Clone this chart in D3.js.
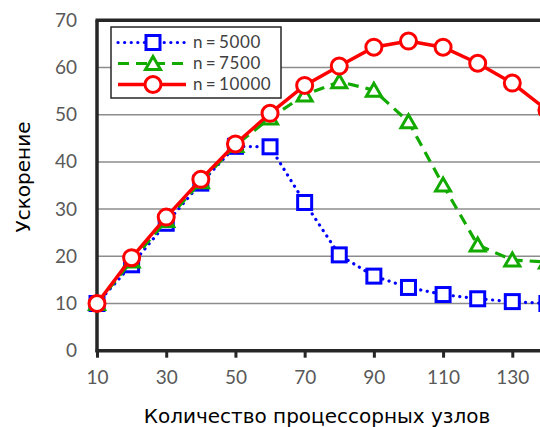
<!DOCTYPE html>
<html>
<head>
<meta charset="utf-8">
<script src="https://cdn.jsdelivr.net/npm/d3@7"></script>
<style>
  body { margin: 0; background: #fff; }
  svg { display: block; }
</style>
</head>
<body>
<div id="chart"></div>
<script>
// data
var nodes = [10, 20, 30, 40, 50, 60, 70, 80, 90, 100, 110, 120, 130, 140];
var s5000 = [10, 18.2, 27, 35.5, 43.3, 43.2, 31.4, 20.3, 15.8, 13.4, 11.9, 11, 10.4, 10];
var s7500 = [10, 19, 27.6, 35.8, 43.5, 49.3, 54.2, 57, 55.2, 48.5, 35.1, 22.4, 19.2, 18.8];
var s10000 = [10, 19.7, 28.3, 36.3, 43.8, 50.3, 56.2, 60.3, 64.3, 65.6, 64.3, 60.9, 56.7, 51];
var xTicks = [10, 30, 50, 70, 90, 110, 130];
var yTicks = [0, 10, 20, 30, 40, 50, 60, 70];
var seriesNames = ["n\u2009=\u20095000", "n\u2009=\u20097500", "n\u2009=\u200910000"];

var width = 540, height = 427;

var svg = d3.select("#chart")
    .append("svg")
    .attr("width", width)
    .attr("height", height);

var xScale = d3.scaleLinear().domain([10, 130]).range([97, 512.3]);
var yScale = d3.scaleLinear().domain([0, 70]).range([350.7, 20.3]);

var tickFont = "Lato, 'Open Sans', sans-serif";

// gridlines
svg.append("g")
    .selectAll("line")
    .data(yTicks.filter(function(d){ return d > 0 && d < 70; }))
    .enter()
    .append("line")
    .attr("x1", xScale(10))
    .attr("x2", width)
    .attr("y1", function(d){ return yScale(d); })
    .attr("y2", function(d){ return yScale(d); })
    .attr("stroke", "#8c8c8c")
    .attr("stroke-width", 1.5);

// y axis labels
var yAxis = svg.append("g")
    .attr("transform", "translate(" + xScale(10) + ",0)")
    .call(d3.axisLeft(yScale).tickValues(yTicks).tickSize(0).tickPadding(20));
yAxis.select(".domain").remove();
yAxis.selectAll("text")
    .attr("fill", "#595959")
    .style("font-family", tickFont)
    .style("font-size", "19px");

// x axis
var xAxis = svg.append("g")
    .attr("transform", "translate(0," + yScale(0) + ")")
    .call(d3.axisBottom(xScale).tickValues(xTicks).tickSizeInner(7).tickSizeOuter(0).tickPadding(13));
xAxis.select(".domain").remove();
xAxis.selectAll("line").attr("stroke", "#262626").attr("stroke-width", 3);
xAxis.selectAll("text")
    .attr("fill", "#595959")
    .style("font-family", tickFont)
    .style("font-size", "19px");

// frame: left, bottom, top
var frame = svg.append("g").attr("stroke", "#262626").attr("stroke-width", 3.5);
frame.append("line").attr("x1", xScale(10)).attr("x2", xScale(10)).attr("y1", yScale(70)).attr("y2", yScale(0) + 1.5);
frame.append("line").attr("x1", xScale(10) - 1.5).attr("x2", width).attr("y1", yScale(0)).attr("y2", yScale(0));
frame.append("line").attr("x1", xScale(10) - 1.5).attr("x2", width).attr("y1", yScale(70)).attr("y2", yScale(70));

var series = [
    {name: seriesNames[0], values: s5000, color: "#0000ff", dash: "0.1 6.5", width: 3.2, cap: "round", marker: "square"},
    {name: seriesNames[1], values: s7500, color: "#13aa00", dash: "11 7", width: 3.2, cap: "butt", marker: "triangle"},
    {name: seriesNames[2], values: s10000, color: "#ff0000", dash: null, width: 3.5, cap: "butt", marker: "circle"}
];

var line = d3.line()
    .x(function(d){ return xScale(d[0]); })
    .y(function(d){ return yScale(d[1]); });

function drawMarker(g, type, color) {
    if (type === "square") {
        g.append("rect").attr("x", -7).attr("y", -7).attr("width", 14).attr("height", 14)
            .attr("fill", "#fff").attr("stroke", color).attr("stroke-width", 3);
    } else if (type === "triangle") {
        g.append("path").attr("d", "M0,-7L7.5,6L-7.5,6Z")
            .attr("fill", "#fff").attr("stroke", color).attr("stroke-width", 3);
    } else {
        g.append("circle").attr("r", 8)
            .attr("fill", "#fff").attr("stroke", color).attr("stroke-width", 3);
    }
}

series.forEach(function(s){
    var pts = nodes.map(function(n, i){ return [n, s.values[i]]; });
    svg.append("path")
        .datum(pts)
        .attr("d", line)
        .attr("fill", "none")
        .attr("stroke", s.color)
        .attr("stroke-width", s.width)
        .attr("stroke-linecap", s.cap)
        .attr("stroke-dasharray", s.dash);
    pts.forEach(function(p){
        var g = svg.append("g").attr("transform", "translate(" + xScale(p[0]) + "," + yScale(p[1]) + ")");
        drawMarker(g, s.marker, s.color);
    });
});

// legend
var legend = svg.append("g");
legend.append("rect")
    .attr("x", 111).attr("y", 27).attr("width", 170).attr("height", 71)
    .attr("fill", "#fff").attr("stroke", "#262626").attr("stroke-width", 1.5);
series.forEach(function(s, i){
    var y = 42.5 + i * 21;
    legend.append("line")
        .attr("x1", 118).attr("x2", 186).attr("y1", y).attr("y2", y)
        .attr("stroke", s.color).attr("stroke-width", s.width)
        .attr("stroke-linecap", s.cap)
        .attr("stroke-dasharray", s.dash);
    var g = legend.append("g").attr("transform", "translate(153," + y + ")");
    drawMarker(g, s.marker, s.color);
    legend.append("text")
        .attr("x", 193).attr("y", y)
        .attr("dy", "0.35em")
        .attr("fill", "#404040")
        .style("font-family", tickFont)
        .style("font-size", "17px")
        .style("letter-spacing", "0.6px")
        .text(s.name);
});

// axis titles
svg.append("text")
    .attr("transform", "translate(30,177) rotate(-90)")
    .attr("text-anchor", "middle")
    .style("font-family", "'DejaVu Sans', sans-serif")
    .style("font-size", "20px")
    .attr("fill", "#000")
    .text("Ускорение");

svg.append("text")
    .attr("x", 317).attr("y", 423)
    .attr("text-anchor", "middle")
    .style("font-family", "'DejaVu Sans', sans-serif")
    .style("font-size", "20px")
    .attr("fill", "#000")
    .text("Количество процессорных узлов");
</script>
</body>
</html>
